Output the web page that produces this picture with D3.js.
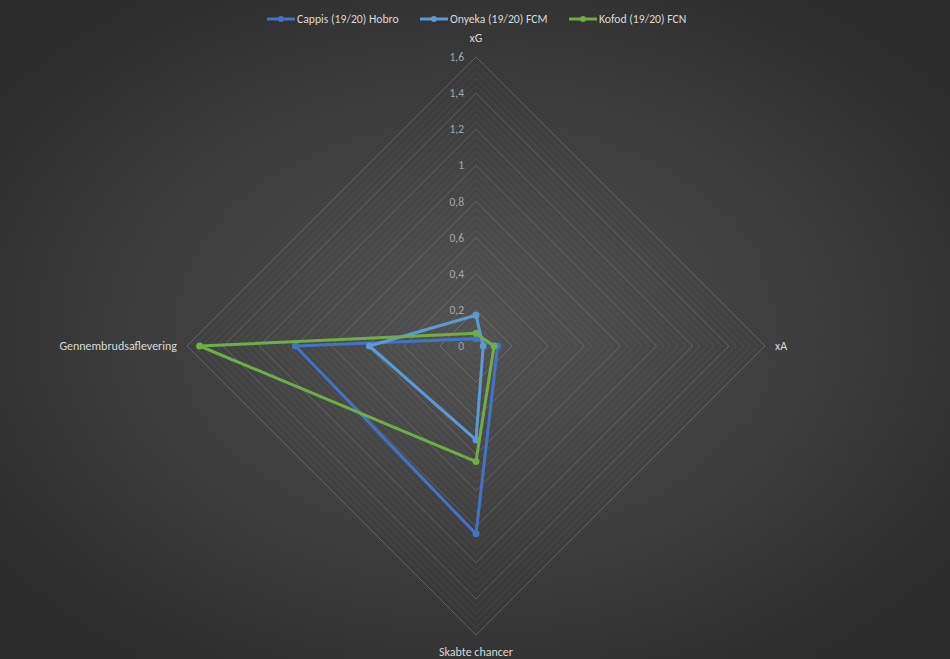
<!DOCTYPE html>
<html>
<head>
<meta charset="utf-8">
<script src="https://cdn.jsdelivr.net/npm/d3@7"></script>
<style>
  html, body { margin: 0; padding: 0; background: #333; }
  svg { display: block; }
</style>
</head>
<body>
<svg id="chart" width="950" height="659"></svg>
<script>
const axes = ["xG", "xA", "Skabte chancer", "Gennembrudsaflevering"];
const seriesNames = ["Cappis (19/20) Hobro", "Onyeka (19/20) FCM", "Kofod (19/20) FCN"];
const cappis = [0.04, 0.12, 1.04, 1.0];
const onyeka = [0.17, 0.04, 0.52, 0.59];
const kofod = [0.07, 0.10, 0.64, 1.53];
const tickLabels = ["0", "0,2", "0,4", "0,6", "0,8", "1", "1,2", "1,4", "1,6"];
const tickValues = [0, 0.2, 0.4, 0.6, 0.8, 1.0, 1.2, 1.4, 1.6];
const colors = ["#4472C4", "#5B9BD5", "#70AD47"];

const W = 950, H = 659;
const cx = 476, cy = 346, R = 289;
const FONT = "Calibri, Carlito, 'Liberation Sans', sans-serif";
const svg = d3.select("#chart");

const defs = svg.append("defs");
const grad = defs.append("radialGradient").attr("id", "bg")
  .attr("cx", "50%").attr("cy", "50%").attr("r", "65%");
grad.append("stop").attr("offset", "0%").attr("stop-color", "#525252");
grad.append("stop").attr("offset", "100%").attr("stop-color", "#2a2a2a");
svg.append("rect").attr("width", W).attr("height", H).attr("fill", "url(#bg)");

const r = d3.scaleLinear().domain([0, 1.6]).range([0, R]);
const angle = d3.scalePoint().domain(d3.range(axes.length)).range([0, 2 * Math.PI * (axes.length - 1) / axes.length]);

const g = svg.append("g").attr("transform", `translate(${cx},${cy})`);

const ring = d3.lineRadial().angle((d, i) => angle(i)).radius(d => r(d)).curve(d3.curveLinearClosed);

// minor gridlines
const minor = d3.range(0.04, 1.6001, 0.04).filter(v => Math.abs(v / 0.2 - Math.round(v / 0.2)) > 1e-6);
g.selectAll(".minor").data(minor).join("path")
  .attr("d", v => ring(axes.map(() => v)))
  .attr("fill", "none").attr("stroke", "#d9d9d9").attr("stroke-opacity", 0.12).attr("stroke-width", 0.75);

// major gridlines
g.selectAll(".major").data(tickValues.slice(1)).join("path")
  .attr("d", v => ring(axes.map(() => v)))
  .attr("fill", "none").attr("stroke", "#d9d9d9").attr("stroke-opacity", 0.25).attr("stroke-width", 0.9);

// tick labels
g.selectAll(".tick").data(tickValues).join("text")
  .attr("x", -12).attr("y", v => -r(v))
  .attr("dy", "0.35em").attr("text-anchor", "end")
  .attr("font-family", FONT)
  .attr("font-size", 11.5).attr("fill", "#a6a6a6")
  .text((v, i) => tickLabels[i]);

// axis labels
const labelPos = [
  {x: 0, y: -R - 19, anchor: "middle"},
  {x: R + 10, y: 0, anchor: "start"},
  {x: 0, y: R + 17, anchor: "middle"},
  {x: -R - 10, y: 0, anchor: "end"}
];
g.selectAll(".axlab").data(axes).join("text")
  .attr("x", (d, i) => labelPos[i].x).attr("y", (d, i) => labelPos[i].y)
  .attr("dy", "0.35em").attr("text-anchor", (d, i) => labelPos[i].anchor)
  .attr("font-family", FONT)
  .attr("font-size", 12).attr("fill", "#d9d9d9")
  .text(d => d);

// series
const allSeries = [cappis, onyeka, kofod];
allSeries.forEach((vals, si) => {
  g.append("path").attr("d", ring(vals))
    .attr("fill", "none").attr("stroke", colors[si]).attr("stroke-width", 3)
    .attr("stroke-linejoin", "round");
  g.selectAll(".pt" + si).data(vals).join("circle")
    .attr("cx", (d, i) => r(d) * Math.sin(angle(i)))
    .attr("cy", (d, i) => -r(d) * Math.cos(angle(i)))
    .attr("r", 3.5).attr("fill", colors[si]);
});

// legend
const legX = [267, 420, 569];
const leg = svg.append("g");
seriesNames.forEach((name, i) => {
  const lg = leg.append("g").attr("transform", `translate(${legX[i]},19)`);
  lg.append("line").attr("x1", 0).attr("x2", 28).attr("y1", 0).attr("y2", 0)
    .attr("stroke", colors[i]).attr("stroke-width", 3);
  lg.append("circle").attr("cx", 14).attr("cy", 0).attr("r", 3).attr("fill", colors[i]);
  lg.append("text").attr("x", 30).attr("y", 0).attr("dy", "0.35em")
    .attr("font-family", FONT)
    .attr("font-size", 11.7).attr("fill", "#d9d9d9").text(name);
});
</script>
</body>
</html>
